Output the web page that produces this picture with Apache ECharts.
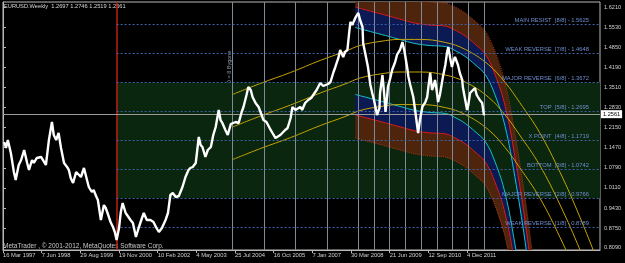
<!DOCTYPE html>
<html>
<head>
<meta charset="utf-8">
<script src="https://cdn.jsdelivr.net/npm/echarts@6/dist/echarts.min.js"></script>
<style>
    html, body { margin: 0; padding: 0; background: #000; }
    #chart { width: 625px; height: 263px; }
</style>
</head>
<body>
<div id="chart"></div>
<script>
// weekly bar index (0 = 16 Mar 1997) and close
const weeklyCloses = [
    [2, 1.1660], [5, 1.1458], [8, 1.1728], [13, 1.1289], [18, 1.0647], [21, 1.0377], [26, 1.0883], [30, 1.1052],
    [35, 1.1390], [40, 1.0951], [43, 1.0714], [48, 1.1052], [51, 1.0951], [56, 1.1120], [63, 1.1154], [68, 1.0985],
    [71, 1.0883], [76, 1.1728], [81, 1.2336], [84, 1.1897], [88, 1.1728], [92, 1.1964], [96, 1.1458], [101, 1.0951],
    [106, 1.0816], [109, 1.0714], [112, 1.0444], [116, 1.0275], [121, 1.0647], [124, 1.0714], [129, 1.0478], [134, 1.0782],
    [139, 1.0377], [142, 1.0140], [147, 0.9971], [150, 1.0039], [154, 0.9836], [157, 0.9701], [162, 0.9025], [167, 0.9532],
    [170, 0.9431], [173, 0.9262], [178, 0.8958], [182, 0.8789], [185, 0.8620], [188, 0.8350], [192, 0.8755], [195, 0.9296],
    [198, 0.9600], [203, 0.9262], [206, 0.9262], [211, 0.9025], [215, 0.8924], [220, 0.8451], [225, 0.8789], [230, 0.9093],
    [233, 0.9262], [238, 0.9025], [241, 0.8958], [244, 0.9025], [249, 0.8958], [254, 0.8755], [258, 0.8620], [263, 0.8755],
    [266, 0.8789], [269, 0.9025], [273, 0.9262], [277, 0.9870], [281, 0.9937], [286, 0.9802], [291, 0.9836], [294, 0.9802],
    [297, 1.0140], [302, 1.0478], [307, 1.0714], [310, 1.0782], [314, 1.0816], [319, 1.0951], [324, 1.1829], [327, 1.1559],
    [330, 1.1491], [335, 1.1154], [339, 1.1390], [344, 1.1491], [348, 1.1897], [352, 1.2167], [357, 1.2741], [360, 1.2403],
    [363, 1.2302], [368, 1.2066], [372, 1.1897], [377, 1.2268], [380, 1.2234], [385, 1.2336], [390, 1.2302], [395, 1.2674],
    [398, 1.2843], [403, 1.3248], [406, 1.3518], [410, 1.3417], [413, 1.3180], [418, 1.2978], [423, 1.2843], [428, 1.2572],
    [431, 1.2403], [436, 1.2336], [439, 1.2302], [443, 1.2066], [446, 1.1964], [451, 1.1795], [454, 1.1728], [459, 1.1897],
    [462, 1.1964], [467, 1.2066], [471, 1.2133], [476, 1.2471], [479, 1.2843], [484, 1.2741], [487, 1.2741], [492, 1.2843],
    [495, 1.2741], [500, 1.2978], [505, 1.3079], [510, 1.3147], [513, 1.3180], [519, 1.3417], [522, 1.3484], [525, 1.3653],
    [530, 1.3552], [533, 1.3518], [538, 1.3619], [542, 1.3687], [547, 1.4025], [550, 1.4194], [555, 1.4498], [558, 1.4768],
    [563, 1.4532], [566, 1.4700], [570, 1.4768], [573, 1.5376], [575, 1.5714], [578, 1.5612], [580, 1.5545], [583, 1.5849],
    [586, 1.5950], [588, 1.6018], [591, 1.5781], [595, 1.5545], [596, 1.5004], [600, 1.4599], [604, 1.4194], [608, 1.3586],
    [611, 1.3315], [614, 1.3079], [619, 1.2572], [623, 1.2809], [624, 1.3315], [628, 1.3923], [631, 1.3248], [633, 1.2674],
    [636, 1.3248], [637, 1.3518], [641, 1.3822], [644, 1.4092], [649, 1.4363], [652, 1.4599], [657, 1.4768], [661, 1.5038],
    [664, 1.4768], [666, 1.4532], [669, 1.4160], [671, 1.3856], [674, 1.3586], [679, 1.3180], [682, 1.2741], [687, 1.1964],
    [690, 1.2403], [694, 1.2843], [699, 1.3011], [702, 1.3180], [705, 1.3687], [707, 1.3991], [710, 1.3417], [713, 1.3586],
    [715, 1.3755], [718, 1.3349], [720, 1.3011], [723, 1.3248], [728, 1.3856], [732, 1.4261], [735, 1.4700], [737, 1.4869],
    [740, 1.4498], [743, 1.4194], [746, 1.4430], [748, 1.4532], [753, 1.4261], [756, 1.3991], [760, 1.3755], [761, 1.3518],
    [765, 1.3079], [768, 1.2741], [770, 1.2910], [773, 1.3315], [776, 1.3248], [781, 1.3484], [784, 1.3248], [786, 1.3180],
    [789, 1.3079], [793, 1.2978], [796, 1.2561]
];
const lastClose = 1.2561;

// regression channel 2008-2012 (centre curve + band offsets)
const chanWeek = [583, 608, 633, 657, 682, 707, 732, 748, 765, 781, 798, 814, 831, 847, 864, 880];
const chanMid = [1.4396, 1.4261, 1.4126, 1.3991, 1.3856, 1.3788, 1.3755, 1.3619, 1.3417, 1.3147, 1.2809, 1.2133, 1.1052, 0.9363, 0.7168, 0.4634];
const cyanOffset = 0.113;
const redOffset = 0.182;
const outerOffset = 0.260;

// yellow channel 2004-2012
const yellowWeek = [380, 426, 476, 525, 566, 591, 624, 657, 690, 732, 765, 803, 831, 855, 888, 922, 955, 988];
const yellowMid = [1.2167, 1.2538, 1.2910, 1.3315, 1.3619, 1.3822, 1.3957, 1.4025, 1.4025, 1.3923, 1.3687, 1.3180, 1.2572, 1.1897, 1.0883, 0.9532, 0.8011, 0.6322];
const yellowOffset = 0.11;

// murrey math levels
const murreyLevels = [1.5625, 1.4648, 1.3672, 1.2695, 1.1719, 1.0742, 0.9766, 0.8789];
const murreyNames = ['MAIN RESIST', 'WEAK REVERSE', 'MAJOR REVERSE', 'TOP', 'X POINT', 'BOTTOM', 'MAJOR REVERSE', 'WEAK REVERSE'];
const murreyEighths = [8, 7, 6, 5, 4, 3, 2, 1];
const murreyStartWeek = 188;

const yearLines = [380, 432, 484, 536, 588, 640, 692, 744, 796];
const halfYearLines = [614, 666, 718, 770];

const priceTicks = [0.8090, 0.8750, 0.9430, 1.0110, 1.0790, 1.1470, 1.2150, 1.2830, 1.3510, 1.4190, 1.4850, 1.5530, 1.6210];
const dateTicks = [0, 64, 128, 192, 256, 320, 384, 448, 512, 576, 640, 704, 768];
const dateLabels = ['16 Mar 1997', '7 Jun 1998', '29 Aug 1999', '19 Nov 2000', '10 Feb 2002', '4 May 2003', '25 Jul 2004',
    '16 Oct 2005', '7 Jan 2007', '30 Mar 2008', '21 Jun 2009', '12 Sep 2010', '4 Dec 2011'];

const FONT = 'Liberation Sans';
var chart = echarts.init(document.getElementById('chart'));

function shifted(arr, d) {
    return arr.map(v => v + d);
}

function curve(weeks, vals) {
    return weeks.map((w, i) => [w, vals[i]]);
}

function bandFill(lo, hi, color) {
    return {
        type: 'custom',
        z: 2,
        silent: true,
        data: [0],
        renderItem(params, api) {
            let pts = [];
            for (let i = 0; i < chanWeek.length; i++) pts.push(api.coord([chanWeek[i], hi[i]]));
            for (let i = chanWeek.length - 1; i >= 0; i--) pts.push(api.coord([chanWeek[i], lo[i]]));
            let cs = params.coordSys;
            return {
                type: 'polygon',
                shape: {points: pts},
                style: {fill: color},
                clipPath: {type: 'rect', shape: {x: cs.x, y: cs.y, width: cs.width, height: cs.height}}
            };
        }
    };
}

function lineSeries(data, color, type, z) {
    return {
        type: 'line',
        data: data,
        showSymbol: false,
        smooth: 0.4,
        silent: true,
        z: z || 3,
        lineStyle: {color: color, width: 1, type: type || 'solid'},
        animation: false
    };
}

let upOuter = shifted(chanMid, outerOffset), upRed = shifted(chanMid, redOffset), upCyan = shifted(chanMid, cyanOffset);
let loOuter = shifted(chanMid, -outerOffset), loRed = shifted(chanMid, -redOffset), loCyan = shifted(chanMid, -cyanOffset);

let murreyLines = murreyLevels.map((v, i) => [
    {
        coord: [murreyStartWeek, v],
        lineStyle: {color: '#3f62a8', width: 1, type: [2, 2]},
        label: {
            show: true,
            position: 'insideEndTop',
            formatter: murreyNames[i] + '  [' + murreyEighths[i] + '/8] - ' + v.toFixed(4),
            color: '#6e8ed0',
            fontSize: 5.8,
            fontFamily: FONT,
            padding: [0, 10, 0, 0],
            distance: 1
        }
    },
    {coord: [988, v]}
]);

var option = {
    backgroundColor: '#000',
    animation: false,
    grid: {left: 2, right: 25, top: 2, bottom: 13, show: true, borderColor: '#b8b8b8', borderWidth: 1},
    xAxis: {
        type: 'value',
        min: 0,
        max: 988,
        axisLine: {show: true, lineStyle: {color: '#b8b8b8'}},
        axisTick: {show: true, customValues: dateTicks, length: 3, lineStyle: {color: '#b8b8b8'}},
        axisLabel: {
            customValues: dateTicks,
            align: 'left',
            margin: 2,
            color: '#d0d0d0',
            fontSize: 5.8,
            fontFamily: FONT,
            formatter: v => dateLabels[dateTicks.indexOf(v)] || ''
        },
        splitLine: {show: false}
    },
    yAxis: {
        type: 'value',
        position: 'right',
        min: 0.8012,
        max: 1.6389,
        axisLine: {show: true, lineStyle: {color: '#b8b8b8'}},
        axisTick: {show: true, customValues: priceTicks, length: 3, lineStyle: {color: '#b8b8b8'}},
        axisLabel: {
            customValues: priceTicks,
            margin: 4,
            color: '#d0d0d0',
            fontSize: 5.6,
            fontFamily: FONT,
            formatter: v => v.toFixed(4)
        },
        splitLine: {show: false}
    },
    graphic: [
        {type: 'text', left: 4, top: 3, style: {text: 'EURUSD.Weekly  1.2697 1.2746 1.2519 1.2561', fill: '#d8d8d8', font: '5.7px ' + FONT}},
        {type: 'text', left: 3, top: 243, style: {text: 'MetaTrader , \u00a9 2001-2012, MetaQuotes Software Corp.', fill: '#c8c8c8', font: '6.5px ' + FONT}},
        {type: 'text', x: 226, y: 84, rotation: Math.PI / 2, style: {text: 'D = 8 Bygone', fill: '#8a92a0', font: '5.5px ' + FONT}}
    ],
    series: [
        {
            // green zone between 2/8 and 6/8
            type: 'line',
            data: [],
            z: 1,
            silent: true,
            markArea: {
                silent: true,
                itemStyle: {color: '#0a260e'},
                data: [[{coord: [murreyStartWeek, 1.3672]}, {coord: [988, 0.9766]}]]
            }
        },
        bandFill(upRed, upOuter, '#4e250c'),
        bandFill(upCyan, upRed, '#0b1a52'),
        bandFill(loRed, loCyan, '#0b1a52'),
        bandFill(loOuter, loRed, '#4e250c'),
        lineSeries(curve(chanWeek, upOuter), '#a8361a', 'dotted'),
        lineSeries(curve(chanWeek, loOuter), '#a8361a', 'dotted'),
        lineSeries(curve(chanWeek, upRed), '#e01818'),
        lineSeries(curve(chanWeek, loRed), '#e01818'),
        lineSeries(curve(chanWeek, upCyan), '#12c4cc'),
        lineSeries(curve(chanWeek, loCyan), '#12c4cc'),
        lineSeries(curve(yellowWeek, shifted(yellowMid, yellowOffset)), '#c8a400'),
        lineSeries(curve(yellowWeek, yellowMid), '#c8a400'),
        lineSeries(curve(yellowWeek, shifted(yellowMid, -yellowOffset)), '#c8a400'),
        {
            // grid lines, murrey levels, price line
            type: 'line',
            data: [],
            z: 4,
            silent: true,
            markLine: {
                silent: true,
                symbol: 'none',
                animation: false,
                data: [
                    ...yearLines.map(w => ({xAxis: w, lineStyle: {color: '#7f8b96', width: 1, type: 'solid'}, label: {show: false}})),
                    ...halfYearLines.map(w => ({xAxis: w, lineStyle: {color: '#7f8b96', width: 1, type: 'solid'}, label: {show: false}})),
                    {xAxis: murreyStartWeek, lineStyle: {color: '#c01c10', width: 1.5, type: 'solid'}, label: {show: false}},
                    ...murreyLines,
                    {
                        yAxis: lastClose,
                        lineStyle: {color: '#9a9a9a', width: 1, type: 'solid'},
                        label: {
                            show: true, position: 'end', formatter: lastClose.toFixed(4),
                            backgroundColor: '#fff', color: '#000', fontSize: 5.6, fontFamily: FONT,
                            padding: [1, 2], distance: 1
                        }
                    }
                ]
            }
        },
        {
            type: 'line',
            data: weeklyCloses,
            showSymbol: false,
            silent: true,
            z: 10,
            lineStyle: {color: '#ffffff', width: 2.4},
            animation: false
        }
    ]
};

chart.setOption(option);
</script>
</body>
</html>
